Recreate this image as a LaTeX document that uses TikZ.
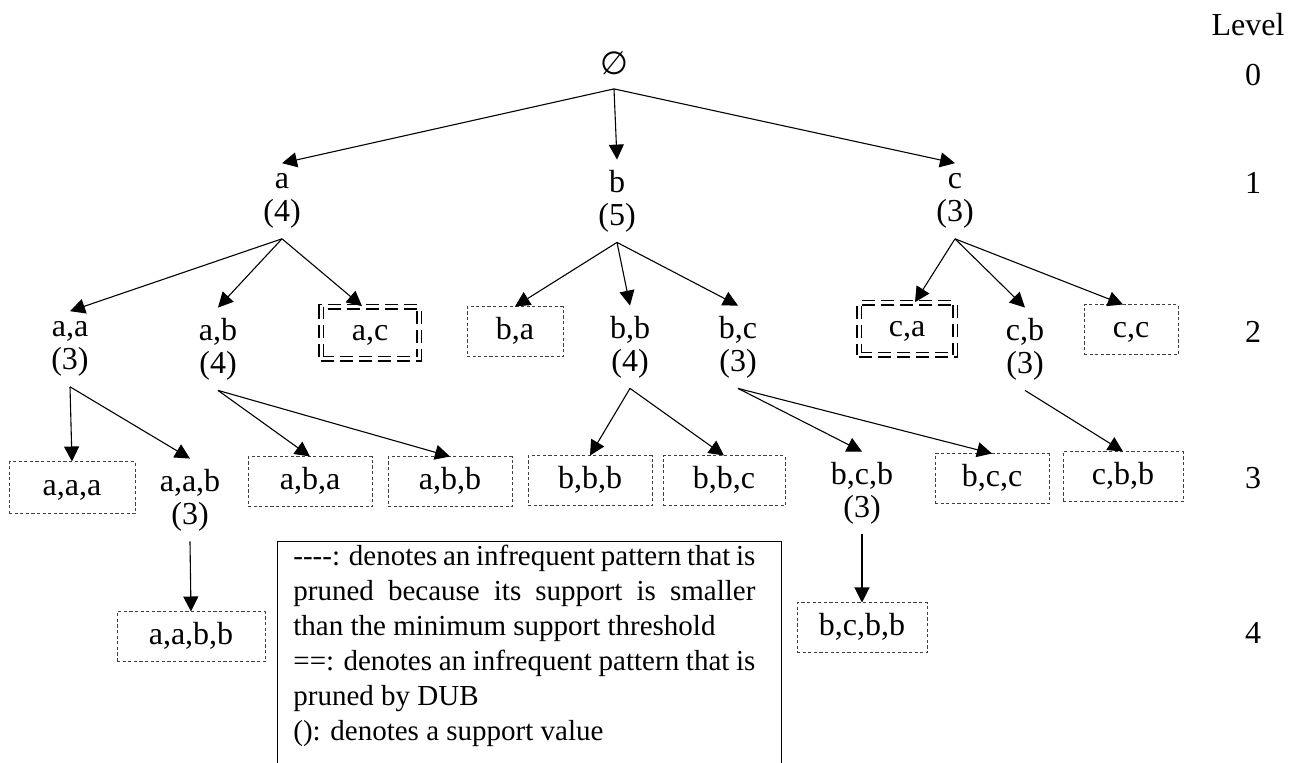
\documentclass[tikz,border=0pt]{standalone}
\usepackage{fontspec}
\setmainfont{Liberation Serif}
\newfontfamily\symfont{DejaVu Sans}
\usetikzlibrary{arrows.meta}

\begin{document}
\begin{tikzpicture}[x=0.5pt, y=-0.5pt,
  every node/.style={font=\fontsize{16}{16.5}\selectfont},
  set/.style={align=center, inner xsep=3pt, inner ysep=5pt},
  pruned/.style={draw=black!75, dash pattern=on 1.6pt off 1.2pt, line width=0.5pt,
                 minimum height=25pt, text height=11pt, text depth=3pt},
  dub/.style={draw, double, double distance=1.5pt, line width=0.85pt,
              dash pattern=on 6.5pt off 3pt, minimum height=26pt,
              text height=11pt, text depth=3pt},
  arr/.style={-{Triangle[length=7.5pt, width=7.5pt]}, line width=0.55pt}]

  \useasboundingbox (0,0) rectangle (1298,763);
  \clip (0,0) rectangle (1298,763);

  % level 0 and 1
  \node[set, inner ysep=7pt] (root) at (614,63) {\symfont ∅};
  \node[set] (a) at (282,201) {a\\(4)};
  \node[set] (b) at (617,201) {b\\(5)};
  \node[set] (c) at (955,201) {c\\(3)};

  % level 2
  \node[set] (aa) at (70,349)  {a,a\\(3)};
  \node[set] (ab) at (218,349) {a,b\\(4)};
  \node[dub, minimum width=49pt] (ac) at (370,333) {a,c};
  \node[pruned, minimum width=48pt] (ba) at (515,332) {b,a};
  \node[set] (bb) at (630,347) {b,b\\(4)};
  \node[set] (bc) at (738,347) {b,c\\(3)};
  \node[dub, minimum width=48pt] (ca) at (907,329) {c,a};
  \node[set] (cb) at (1025,349) {c,b\\(3)};
  \node[pruned, minimum width=47pt] (cc) at (1131,330) {c,c};

  % level 3
  \node[pruned, minimum width=63pt, minimum height=26pt] (aaa) at (72,488) {a,a,a};
  \node[set] (aab) at (190,500) {a,a,b\\(3)};
  \node[pruned, minimum width=62pt] (aba) at (310,482) {a,b,a};
  \node[pruned, minimum width=62pt] (abb) at (450,482) {a,b,b};
  \node[pruned, minimum width=62pt] (bbb) at (590,481) {b,b,b};
  \node[pruned, minimum width=61pt] (bbc) at (724,481) {b,b,c};
  \node[set] (bcb) at (862,493) {b,c,b\\(3)};
  \node[pruned, minimum width=57pt] (bcc) at (992,479) {b,c,c};
  \node[pruned, minimum width=60pt] (cbb) at (1123,477) {c,b,b};

  % level 4
  \node[pruned, minimum width=74pt] (aabb) at (191,637) {a,a,b,b};
  \node[pruned, minimum width=65pt] (bcbb) at (862,628) {b,c,b,b};

  % level numbers
  \node (lvl)  at (1248,25)  {Level};
  \node (lvl0) at (1253,75)  {0};
  \node (lvl1) at (1253,183) {1};
  \node (lvl2) at (1253,332) {2};
  \node (lvl3) at (1253,478) {3};
  \node (lvl4) at (1253,633) {4};

  \draw[arr] (root.south) -- (a.north);
  \draw[arr] (root.south) -- (b.north);
  \draw[arr] (root.south) -- (c.north);

  \draw[arr] (a.south) -- (aa.north);
  \draw[arr] (a.south) -- (ab.north);
  \draw[arr] (a.south) -- ([xshift=-4pt]ac.north);
  \draw[arr] (b.south) -- (ba.north);
  \draw[arr] (b.south) -- (bb.north);
  \draw[arr] (b.south) -- (bc.north);
  \draw[arr] (c.south) -- ([xshift=4pt]ca.north);
  \draw[arr] (c.south) -- (cb.north);
  \draw[arr] (c.south) -- ([xshift=-4pt]cc.north);

  \draw[arr] (aa.south) -- (aaa.north);
  \draw[arr] (aa.south) -- (aab.north);
  \draw[arr] (ab.south) -- (aba.north);
  \draw[arr] (ab.south) -- (abb.north);
  \draw[arr] (bb.south) -- (bbb.north);
  \draw[arr] (bb.south) -- (bbc.north);
  \draw[arr] (bc.south) -- (bcb.north);
  \draw[arr] (bc.south) -- (bcc.north);
  \draw[arr] (cb.south) -- (cbb.north);
  \draw[arr] (aab.south) -- (aabb.north);
  \draw[arr] (bcb.south) -- (bcbb.north);

  % legend
  \node[draw, line width=0.6pt, inner sep=0pt, anchor=north west,
        minimum width=252pt, minimum height=130pt] (legendbox) at (277,541) {};
  \node[anchor=north west, inner sep=0pt, align=left,
        font=\fontsize{14.5}{17.5}\selectfont] (legend) at (293,545)
    {\makebox[231pt][s]{-{}-{}-{}-: denotes an infrequent pattern that is}\\
     \makebox[231pt][s]{pruned because its support is smaller}\\
     than the minimum support threshold\\
     \makebox[231pt][s]{==: denotes an infrequent pattern that is}\\
     pruned by DUB\\
     (): denotes a support value};
\end{tikzpicture}
\end{document}
